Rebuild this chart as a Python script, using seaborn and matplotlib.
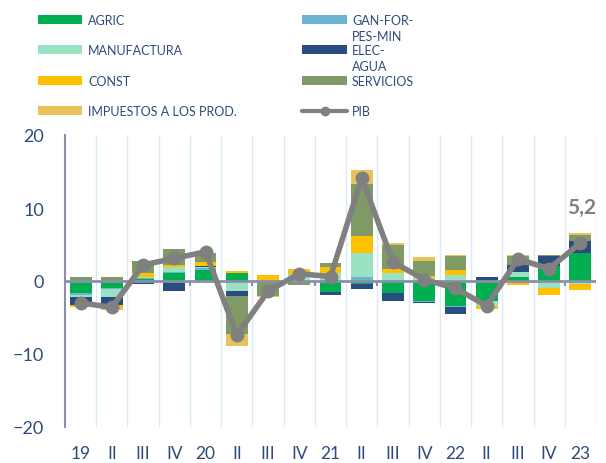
import numpy as np
import pandas as pd
import matplotlib.pyplot as plt
import seaborn as sns
from matplotlib.patches import Rectangle
from matplotlib.lines import Line2D

quarters = ["19", "II", "III", "IV", "20", "II", "III", "IV", "21",
            "II", "III", "IV", "22", "II", "III", "IV", "23"]

agric = [-1.7, -0.9, 0.25, 1.05, 1.5, 1.15, 0.0, 0.0, -1.5, -0.45, -1.6, -2.7, -3.4, -2.7, 0.55, 2.05, 3.9]
gan = [-0.2, -0.15, 0.1, 0.2, 0.3, 0.0, 0.0, 0.0, 0.2, 0.55, 0.0, -0.15, -0.2, 0.0, 0.0, 0.0, 0.0]
manuf = [-0.35, -1.2, 0.2, 0.65, 0.1, -1.4, 0.0, 0.9, 0.9, 3.3, 1.15, 0.35, 0.8, -0.7, 0.7, -0.9, -0.4]
elec = [-1.0, -1.0, -0.4, -1.4, 0.1, -0.6, 0.0, -0.2, -0.45, -0.6, -1.15, -0.2, -0.9, 0.55, 0.9, 1.35, 1.6]
const = [-0.25, -0.3, 0.5, 0.3, 0.6, 0.25, 0.8, 0.6, 0.8, 2.3, 0.45, 0.3, 0.7, -0.45, -0.6, -1.0, -0.9]
serv = [0.5, 0.5, 1.7, 2.2, 1.3, -5.3, -2.0, -0.4, 0.55, 7.1, 3.3, 2.05, 1.9, 0.0, 1.3, 0.1, 0.8]
imp = [0.0, -0.4, 0.0, 0.0, 0.0, -1.6, -0.2, 0.1, 0.0, 2.0, 0.35, 0.55, 0.15, 0.0, 0.1, 0.0, 0.25]
pib = [-3.0, -3.6, 2.2, 3.1, 4.0, -7.4, -1.4, 1.0, 0.6, 14.1, 2.6, 0.2, -1.0, -3.4, 3.0, 1.7, 5.2]

series = [
    ("AGRIC", agric, "#00b050"),
    ("GAN-FOR-\nPES-MIN", gan, "#6bb5d0"),
    ("MANUFACTURA", manuf, "#99e2c2"),
    ("ELEC-\nAGUA", elec, "#2b4c80"),
    ("CONST", const, "#ffc000"),
    ("SERVICIOS", serv, "#7f9a65"),
    ("IMPUESTOS A LOS PROD.", imp, "#e8c35a"),
]

navy = "#2f4b7c"
axis_gray = "#8a8fa8"
pib_gray = "#808080"

sns.set_style("white")
plt.rcParams["font.family"] = ["Lato", "DejaVu Sans"]

fig = plt.figure(figsize=(6.06, 4.64), dpi=100)
ax = fig.add_axes([65 / 606, 1 - 428 / 464, (596 - 65) / 606, (428 - 136) / 464])

n = len(quarters)
xs = np.arange(n)
pos_base = np.zeros(n)
neg_base = np.zeros(n)
for name, vals, col in series:
    v = np.array(vals)
    bottom = np.where(v >= 0, pos_base, neg_base)
    sns.barplot(x=xs, y=v, bottom=bottom, color=col, saturation=1, width=0.7,
                errorbar=None, linewidth=0, ax=ax, zorder=2)
    pos_base = pos_base + np.where(v > 0, v, 0)
    neg_base = neg_base + np.where(v < 0, v, 0)

ax.axhline(0, color=axis_gray, lw=2, zorder=3)
ax.vlines(np.arange(3.5, n, 2), -0.7, 0, color=axis_gray, lw=1.5, zorder=3)

sns.lineplot(x=xs, y=pib, color=pib_gray, lw=4, marker="o", markersize=10,
             markeredgewidth=0, ax=ax, zorder=4)

ax.annotate(f"{pib[-1]:.1f}".replace(".", ","), xy=(xs[-1], pib[-1]),
            xytext=(1, 26), textcoords="offset points", ha="center", va="center",
            fontsize=15, fontweight="bold", color=pib_gray)

ax.set_xlim(-0.5, n - 0.5)
ax.set_ylim(-20, 20)
ax.set_yticks([-20, -10, 0, 10, 20])
ax.set_xticks(xs)
ax.set_xticklabels(quarters)
ax.set_xticks(np.arange(0.5, n, 1), minor=True)
ax.grid(False)
ax.grid(True, which="minor", axis="x", color="#d8ecf5", lw=1, zorder=0)
ax.tick_params(axis="x", which="both", length=0, pad=13, labelsize=12.5, labelcolor=navy)
ax.tick_params(axis="y", length=6, width=1.5, color=axis_gray, direction="out",
               pad=9, labelsize=13, labelcolor=navy)
for s in ["top", "right", "bottom"]:
    ax.spines[s].set_visible(False)
ax.spines["left"].set_color(axis_gray)
ax.spines["left"].set_linewidth(1.5)
ax.set_xlabel("")
ax.set_ylabel("")

# legend drawn by hand, two columns
W, H = 606, 464
rows = [20.7, 50.7, 81.7, 111.7]
cols = [(38, 82, 88), (302, 347, 352)]
entries = [series[0], series[2], series[4], series[6], series[1], series[3], series[5]]
for i, (name, vals, col) in enumerate(entries):
    c = i // 4
    r = i % 4
    x0, x1, xt = cols[c]
    y = rows[r]
    fig.add_artist(Rectangle((x0 / W, 1 - (y + 4.5) / H), (x1 - x0) / W, 9 / H,
                             transform=fig.transFigure, color=col, lw=0))
    for k, line in enumerate(name.split("\n")):
        fig.text(xt / W, 1 - (y + k * 16) / H, line, ha="left", va="center",
                 fontsize=9, color=navy)
x0, x1, xt = cols[1]
y = rows[3]
fig.add_artist(Line2D([x0 / W, x1 / W], [1 - y / H, 1 - y / H], transform=fig.transFigure,
                      color=pib_gray, lw=3))
fig.add_artist(Line2D([(x0 + x1) / 2 / W], [1 - y / H], transform=fig.transFigure,
                      color=pib_gray, marker="o", markersize=7, markeredgewidth=0))
fig.text(xt / W, 1 - y / H, "PIB", ha="left", va="center", fontsize=9, color=navy)

fig.savefig("out.png", dpi=100)
